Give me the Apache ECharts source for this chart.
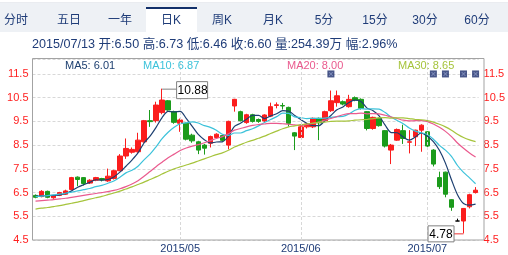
<!DOCTYPE html>
<html><head><meta charset="utf-8">
<script src="https://cdn.jsdelivr.net/npm/echarts@6/dist/echarts.min.js"></script>
<style>html,body{margin:0;padding:0;background:#fff;}#c{width:508px;height:255px;}</style>
</head><body><div id="c"></div>
<script>
// ---------- DATA ----------
const categories = ['2015/03/27','2015/03/30','2015/03/31','2015/04/01','2015/04/02','2015/04/03','2015/04/07','2015/04/08','2015/04/09','2015/04/10','2015/04/13','2015/04/14','2015/04/15','2015/04/16','2015/04/17','2015/04/20','2015/04/21','2015/04/22','2015/04/23','2015/04/24','2015/04/27','2015/04/28','2015/04/29','2015/04/30','2015/05/04','2015/05/05','2015/05/06','2015/05/07','2015/05/08','2015/05/11','2015/05/12','2015/05/13','2015/05/14','2015/05/15','2015/05/18','2015/05/19','2015/05/20','2015/05/21','2015/05/22','2015/05/25','2015/05/26','2015/05/27','2015/05/28','2015/05/29','2015/06/01','2015/06/02','2015/06/03','2015/06/04','2015/06/05','2015/06/08','2015/06/09','2015/06/10','2015/06/11','2015/06/12','2015/06/15','2015/06/16','2015/06/17','2015/06/18','2015/06/19','2015/06/23','2015/06/24','2015/06/25','2015/06/26','2015/06/29','2015/06/30','2015/07/01','2015/07/02','2015/07/03','2015/07/06','2015/07/07','2015/07/08','2015/07/09','2015/07/10','2015/07/13'];
const opens = [6.38,6.33,6.55,6.28,6.38,6.43,6.63,7.15,7.13,6.90,
7.02,7.09,6.99,7.09,7.42,8.04,8.20,8.22,8.64,9.53,
9.53,9.87,10.37,9.91,9.42,9.42,8.92,8.64,8.50,8.58,
8.82,8.90,8.50,10.15,9.91,9.45,9.78,9.58,9.52,9.72,
10.17,10.17,10.09,9.02,8.82,9.27,9.27,9.63,9.53,9.95,
10.29,10.33,10.12,10.50,10.43,9.91,9.20,9.63,9.11,8.29,
8.71,9.11,8.62,8.85,9.13,9.06,8.29,7.13,7.36,6.20,
5.30,5.30,5.90,6.50];
const closes = [6.30,6.55,6.30,6.37,6.50,6.57,7.13,7.05,6.88,7.02,
7.13,7.03,7.19,7.42,8.04,8.36,8.32,8.71,9.53,9.49,
10.19,10.40,9.98,9.46,9.56,8.75,8.68,8.29,8.37,8.86,
8.96,8.70,9.50,10.43,9.53,9.78,9.50,9.50,9.77,10.12,
10.20,10.15,9.42,8.88,9.27,9.39,9.63,9.44,9.91,10.37,
10.58,10.23,10.43,10.40,10.05,9.20,9.67,9.32,8.46,8.50,
9.16,8.78,8.64,9.13,9.34,8.46,7.70,6.75,6.43,5.88,
5.30,5.83,6.41,6.60];
const lows = [6.26,6.30,6.26,6.24,6.35,6.40,6.60,6.77,6.80,6.86,
6.98,6.97,6.95,7.05,7.40,7.92,8.14,8.18,8.60,9.27,
9.45,9.80,9.95,9.40,9.06,8.70,8.60,8.12,8.10,8.40,
8.78,8.64,8.32,9.91,9.50,9.40,9.45,9.44,9.48,9.68,
10.05,10.00,9.28,8.29,8.80,9.20,9.22,8.71,9.50,9.90,
10.12,10.18,10.08,10.35,10.00,9.12,9.15,9.28,8.40,7.70,
8.68,8.55,8.15,8.46,8.22,8.42,7.60,6.65,6.30,5.73,
5.30,4.78,5.83,6.46];
const highs = [6.42,6.60,6.58,6.40,6.53,6.62,7.16,7.18,7.15,7.06,
7.16,7.12,7.51,7.46,8.12,8.78,8.40,9.02,9.56,9.98,
10.33,10.88,10.40,9.95,9.62,9.45,8.98,8.68,8.55,8.90,
9.00,8.94,9.53,10.45,9.95,9.82,9.82,9.62,9.80,10.29,
10.30,10.28,10.12,9.05,9.30,9.42,9.66,9.66,9.95,10.80,
10.80,10.38,10.62,10.55,10.47,9.93,9.70,9.66,9.13,8.55,
9.20,9.36,9.13,9.15,9.38,9.08,8.33,7.38,7.38,6.22,
5.40,5.85,6.45,6.73];
const ma5 = [6.35,6.36,6.37,6.38,6.40,6.46,6.57,6.72,6.83,6.93,7.04,7.02,7.05,7.16,7.36,7.61,7.87,8.17,8.59,8.88,9.25,9.66,9.92,9.90,9.92,9.63,9.29,8.95,8.73,8.59,8.63,8.64,8.88,9.29,9.42,9.59,9.75,9.75,9.62,9.73,9.82,9.95,9.93,9.75,9.58,9.42,9.32,9.32,9.53,9.75,9.99,10.11,10.30,10.40,10.34,10.06,9.95,9.73,9.34,9.03,9.02,8.84,8.71,8.84,9.01,8.87,8.65,8.28,7.74,7.04,6.41,6.04,5.97,6.01];
const ma10 = [6.33,6.35,6.37,6.40,6.43,6.47,6.52,6.57,6.62,6.67,6.75,6.80,6.89,6.99,7.15,7.33,7.44,7.61,7.88,8.12,8.43,8.77,9.04,9.25,9.40,9.44,9.48,9.43,9.32,9.25,9.13,8.96,8.91,9.01,9.01,9.11,9.19,9.31,9.45,9.58,9.70,9.85,9.84,9.69,9.66,9.62,9.63,9.63,9.64,9.67,9.70,9.71,9.81,9.97,10.04,10.02,10.03,10.02,9.87,9.68,9.54,9.40,9.22,9.09,9.02,8.95,8.75,8.49,8.29,8.03,7.64,7.35,7.12,6.87];
const ma20 = [6.14,6.16,6.18,6.20,6.23,6.26,6.30,6.34,6.38,6.42,6.46,6.50,6.54,6.59,6.66,6.75,6.86,7.00,7.19,7.39,7.59,7.78,7.97,8.12,8.27,8.38,8.46,8.52,8.60,8.69,8.78,8.86,8.98,9.13,9.20,9.27,9.33,9.37,9.39,9.42,9.42,9.40,9.38,9.35,9.33,9.37,9.41,9.47,9.55,9.62,9.70,9.78,9.83,9.83,9.85,9.82,9.83,9.82,9.76,9.68,9.62,9.55,9.52,9.53,9.53,9.49,9.39,9.25,9.08,8.86,8.59,8.37,8.17,8.00];
const ma30 = [5.80,5.84,5.87,5.91,5.95,6.00,6.05,6.10,6.16,6.22,6.28,6.34,6.41,6.48,6.56,6.65,6.74,6.84,6.94,7.05,7.16,7.28,7.40,7.50,7.58,7.66,7.74,7.83,7.92,8.01,8.10,8.17,8.28,8.42,8.52,8.62,8.70,8.79,8.88,8.99,9.09,9.19,9.27,9.31,9.36,9.39,9.43,9.46,9.47,9.50,9.51,9.51,9.52,9.55,9.57,9.58,9.62,9.65,9.66,9.64,9.65,9.65,9.62,9.58,9.57,9.53,9.47,9.38,9.27,9.13,8.96,8.82,8.72,8.65];
const maNames = ['MA5','MA10','MA20','MA30'];
const monthStarts = ['2015/05/04','2015/06/01','2015/07/01'];
const markerDates = ['2015/06/08','2015/07/02','2015/07/06','2015/07/09','2015/07/13'];
const markerValue = 11.5;
const highPoint = ['2015/04/28', 10.88];
const lowPoint = ['2015/07/09', 4.78];
const yTicks = [4.5, 5.5, 6.5, 7.5, 8.5, 9.5, 10.5, 11.5];
const tabs = ['分时','五日','一年','日K','周K','月K','5分','15分','30分','60分'];
const selectedTab = 3;
const volumeText = '254.39万';
const changeText = '2.96%';

// ---------- STYLE / LAYOUT ----------
const FONT = '"Liberation Sans","Noto Sans CJK SC",Arial,sans-serif';
const NAVY = '#1f3c78';
const UP = '#fb1d1d', DOWN = '#1b9b1b';
const maColors = ['#1d3f70','#3cc2da','#ea5a8e','#a6c43c'];
const legendX = [65, 143, 287, 398];
const tabCenters = [16, 69, 120, 171, 222, 273, 324, 375, 425, 477];
const G = {left: 32.5, right: 26.5, top: 59, bottom: 15};

const chart = echarts.init(document.getElementById('c'), null, {renderer: 'canvas', width: 508, height: 255});

const kData = categories.map((d, i) => {
  const v = [opens[i], closes[i], lows[i], highs[i]];
  if (opens[i] === closes[i]) return {value: v, itemStyle: {color: '#000', borderColor: '#000', borderColorDoji: '#000'}};
  return v;
});

const yMin = yTicks[0], yMax = 12.13;
const yAxisBase = {
  type: 'value', min: yMin, max: yMax, interval: 1,
  axisLine: {show: false}, axisTick: {show: false},
  axisLabel: {color: '#ff2020', fontFamily: FONT, fontSize: 11, showMaxLabel: false,
    formatter: v => yTicks.some(t => Math.abs(t - v) < 1e-6) ? v.toFixed(1) : ''},
};

chart.setOption({
  animation: false,
  grid: {left: G.left, right: G.right, top: G.top, bottom: G.bottom, show: false},
  xAxis: {
    type: 'category', data: categories, boundaryGap: true,
    axisLine: {show: false}, axisTick: {show: false}, splitLine: {show: false},
    axisLabel: {
      interval: (i, v) => monthStarts.includes(v),
      formatter: v => v.slice(0, 7), color: NAVY, fontFamily: FONT, fontSize: 11, margin: 3
    }
  },
  yAxis: [
    Object.assign({}, yAxisBase, {position: 'left', axisLabel: Object.assign({}, yAxisBase.axisLabel, {margin: 4}),
      splitLine: {show: true, lineStyle: {color: '#d8d8d8', type: [3, 2], width: 1}}}),
    Object.assign({}, yAxisBase, {position: 'right', axisLabel: Object.assign({}, yAxisBase.axisLabel, {margin: 5}),
      splitLine: {show: false}})
  ],
  series: [
    {
      type: 'candlestick', data: kData, barWidth: 5,
      itemStyle: {color: UP, color0: DOWN, borderColor: UP, borderColor0: DOWN, borderWidth: 1, borderColorDoji: UP},
      markLine: {
        silent: true, symbol: 'none', label: {show: false},
        lineStyle: {color: '#d8d8d8', type: [3, 2], width: 1},
        data: monthStarts.map(d => ({xAxis: d}))
      }
    },
    ...[ma5, ma10, ma20, ma30].map((arr, i) => ({
      type: 'line', name: maNames[i], data: arr, symbol: 'none', smooth: 0.3,
      lineStyle: {color: maColors[i], width: 1.2}, z: 3
    })),
    {
      type: 'scatter', data: markerDates.map(d => [d, markerValue]), symbol: 'rect', symbolSize: 7,
      itemStyle: {color: '#1a2c6c'}, z: 5, silent: true
    },
    {
      type: 'scatter', data: markerDates.map(d => [d, markerValue]),
      symbol: 'path://M0,0L1.5,0L5,3.5L8.5,0L10,0L10,1.5L6.5,5L10,8.5L10,10L8.5,10L5,6.5L1.5,10L0,10L0,8.5L3.5,5L0,1.5Z',
      symbolSize: 4, itemStyle: {color: '#8d9bc7'}, z: 6, silent: true
    }
  ]
});

// ---------- GRAPHICS (header, legend, annotations) ----------
const gfx = [];
gfx.push({type: 'rect', shape: {x: 0, y: 3, width: 508, height: 29}, style: {fill: '#eef1f5'}, silent: true});
gfx.push({type: 'rect', shape: {x: 0, y: 2.5, width: 508, height: 0.5}, style: {fill: '#d5dae2'}, silent: true});
gfx.push({type: 'rect', shape: {x: 146, y: 8, width: 51, height: 24}, style: {fill: '#ffffff'}, silent: true});
gfx.push({type: 'rect', shape: {x: 146, y: 7, width: 51, height: 2}, style: {fill: '#12306a'}, silent: true});
tabs.forEach((t, i) => {
  gfx.push({type: 'text', x: tabCenters[i], y: 21, silent: true,
    style: {text: t, fill: NAVY, font: '12px ' + FONT, textAlign: 'center', textVerticalAlign: 'middle'}});
});
const n = categories.length - 1;
const info = categories[n] + ' 开:' + opens[n].toFixed(2) + ' 高:' + highs[n].toFixed(2) +
  ' 低:' + lows[n].toFixed(2) + ' 收:' + closes[n].toFixed(2) + ' 量:' + volumeText + ' 幅:' + changeText;
gfx.push({type: 'text', x: 32, y: 44.5, silent: true,
  style: {text: info, fill: NAVY, font: '12.6px ' + FONT, textAlign: 'left', textVerticalAlign: 'middle'}});
gfx.push({type: 'rect', shape: {x: 32.5, y: 58.5, width: 451.5, height: 181.5}, z: 1, silent: true,
  style: {fill: 'none', stroke: '#a3a3a3', lineWidth: 1}});
[ma5, ma10, ma20, ma30].forEach((arr, i) => {
  gfx.push({type: 'text', x: legendX[i], y: 65.5, silent: true, z: 10,
    style: {text: maNames[i] + ': ' + arr[arr.length - 1].toFixed(2), fill: maColors[i],
      font: '11px ' + FONT, textAlign: 'left', textVerticalAlign: 'middle'}});
});
const ph = chart.convertToPixel({xAxisIndex: 0, yAxisIndex: 0}, highPoint);
const pl = chart.convertToPixel({xAxisIndex: 0, yAxisIndex: 0}, lowPoint);
const hbx = ph[0] + 14, hby = ph[1] - 7.5;
gfx.push({type: 'line', shape: {x1: ph[0], y1: ph[1] + 0.5, x2: hbx, y2: ph[1] + 0.5}, style: {stroke: '#808080', lineWidth: 1}, z: 10, silent: true});
gfx.push({type: 'rect', shape: {x: hbx + 0.5, y: hby + 0.5, width: 31, height: 17}, style: {fill: '#fff', stroke: '#808080', lineWidth: 1}, z: 10, silent: true});
gfx.push({type: 'text', x: hbx + 16.5, y: hby + 9.5, z: 11, silent: true,
  style: {text: highPoint[1].toFixed(2), fill: '#000', font: '12px ' + FONT, textAlign: 'center', textVerticalAlign: 'middle'}});
const lbw = 26, lbx = pl[0] - 10 - lbw, lby = pl[1] - 8;
gfx.push({type: 'line', shape: {x1: lbx + lbw, y1: pl[1] + 0.5, x2: pl[0], y2: pl[1] + 0.5}, style: {stroke: '#e33', lineWidth: 1}, z: 10, silent: true});
gfx.push({type: 'rect', shape: {x: lbx + 0.5, y: lby + 0.5, width: lbw, height: 16}, style: {fill: '#fff', stroke: '#808080', lineWidth: 1}, z: 10, silent: true});
gfx.push({type: 'text', x: lbx + lbw / 2 + 0.5, y: lby + 9, z: 11, silent: true,
  style: {text: lowPoint[1].toFixed(2), fill: '#000', font: '12px ' + FONT, textAlign: 'center', textVerticalAlign: 'middle'}});

chart.setOption({graphic: gfx});
</script>
</body></html>
